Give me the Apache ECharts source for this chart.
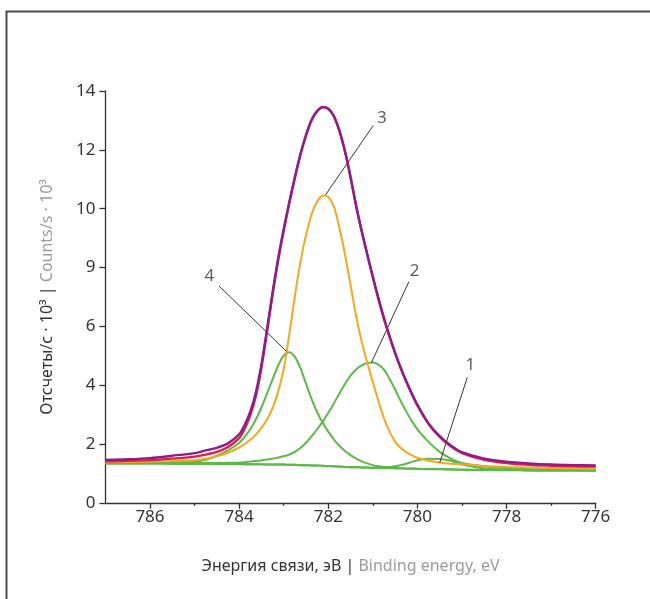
<!DOCTYPE html>
<html><head><meta charset="utf-8">
<script src="https://cdn.jsdelivr.net/npm/echarts@6/dist/echarts.min.js"></script>
<style>html,body{margin:0;padding:0;background:#fff}#c{width:650px;height:599px}</style>
</head><body><div id="c"></div>
<script>
// Binding energy grid (eV)
const energies = [787, 786.5, 786, 785.5, 785, 784.75, 784.5, 784.25, 784,
  783.875, 783.75, 783.625, 783.5, 783.375, 783.25, 783.125, 783, 782.875, 782.75, 782.625, 782.5, 782.375, 782.25, 782.125, 782,
  781.875, 781.75, 781.625, 781.5, 781.375, 781.25, 781.125, 781, 780.875, 780.75, 780.625, 780.5, 780.375, 780.25, 780.125,
  780, 779.75, 779.5, 779.25, 779, 778.5, 778, 777.5, 777, 776.5, 776];
// Counts/s · 10^3
const background = [1.34,1.34,1.34,1.33,1.33,1.33,1.32,1.32,1.32,
  1.31,1.31,1.31,1.31,1.30,1.30,1.30,1.30,1.29,1.29,1.28,1.28,1.27,1.27,1.26,1.25,
  1.24,1.23,1.22,1.21,1.21,1.20,1.20,1.19,1.19,1.18,1.18,1.17,1.17,1.16,1.16,
  1.15,1.14,1.14,1.13,1.12,1.11,1.11,1.10,1.10,1.10,1.10];
const peak1 = [1.34,1.34,1.34,1.33,1.33,1.33,1.32,1.32,1.32,
  1.31,1.31,1.31,1.31,1.30,1.30,1.30,1.30,1.29,1.29,1.28,1.28,1.27,1.27,1.26,1.25,
  1.24,1.23,1.22,1.21,1.21,1.20,1.20,1.19,1.19,1.20,1.21,1.24,1.28,1.33,1.39,
  1.45,1.50,1.49,1.43,1.30,1.17,1.13,1.11,1.10,1.10,1.10];
const peak2 = [1.36,1.36,1.35,1.35,1.35,1.35,1.35,1.36,1.37,
  1.38,1.40,1.42,1.44,1.47,1.50,1.54,1.58,1.64,1.73,1.86,2.04,2.26,2.50,2.76,3.06,
  3.38,3.72,4.04,4.32,4.53,4.67,4.75,4.77,4.70,4.53,4.22,3.85,3.46,3.10,2.78,
  2.50,2.07,1.73,1.50,1.35,1.24,1.18,1.15,1.13,1.12,1.11];
const peak3 = [1.38,1.39,1.40,1.42,1.45,1.50,1.58,1.70,1.88,
  2.00,2.14,2.32,2.55,2.83,3.22,3.78,4.55,5.72,7.02,8.18,9.10,9.80,10.24,10.45,10.40,
  10.08,9.35,8.45,7.40,6.35,5.48,4.76,4.10,3.47,2.87,2.42,2.08,1.87,1.72,1.62,
  1.53,1.43,1.37,1.33,1.31,1.25,1.22,1.20,1.18,1.17,1.16];
const peak4 = [1.36,1.37,1.37,1.38,1.40,1.46,1.60,1.78,2.03,
  2.24,2.50,2.83,3.24,3.71,4.20,4.66,5.00,5.12,4.96,4.58,4.05,3.53,3.08,2.72,2.42,
  2.16,1.94,1.76,1.62,1.50,1.41,1.34,1.28,1.24,1.22,1.21,1.19,1.18,1.17,1.17,
  1.16,1.15,1.15,1.14,1.13,1.12,1.12,1.11,1.11,1.11,1.10];
const fitSum = [1.41,1.43,1.45,1.50,1.57,1.64,1.73,1.90,2.20,
  2.52,2.97,3.62,4.58,5.80,7.07,8.24,9.25,10.18,11.04,11.83,12.48,13.00,13.31,13.45,13.39,
  13.14,12.64,11.94,11.07,10.09,9.23,8.44,7.67,6.94,6.26,5.65,5.09,4.58,4.12,3.70,
  3.31,2.68,2.24,1.92,1.69,1.46,1.35,1.29,1.26,1.24,1.23];
const measured = [1.46,1.48,1.52,1.60,1.69,1.78,1.87,2.02,2.33,
  2.65,3.10,3.75,4.70,5.90,7.15,8.30,9.30,10.22,11.07,11.85,12.50,13.02,13.32,13.46,13.40,
  13.15,12.65,11.95,11.08,10.10,9.24,8.45,7.68,6.95,6.27,5.66,5.10,4.59,4.13,3.71,
  3.33,2.70,2.27,1.95,1.72,1.50,1.40,1.34,1.30,1.28,1.27];

const xMajorTicks = [776, 778, 780, 782, 784, 786];
const xMinorTicks = [777, 779, 781, 783, 785];
const yTickLabels = ['0', '2', '4', '6', '9', '10', '12', '14'];

// Peak annotations
const labelTexts = ['1', '2', '3', '4'];
const labelPos = [[778.81, 4.69], [780.06, 7.86], [780.80, 13.08], [784.67, 7.69]];
const leaderStart = [[778.88, 4.27], [780.19, 7.52], [780.99, 12.83], [784.45, 7.37]];
const leaderEnd = [[779.50, 1.36], [781.03, 4.77], [782.06, 10.47], [782.93, 5.14]];

const FONT = 'Noto Sans';
const DARK = '#333333';
const GRAY = '#9b9b9b';
const C_PURPLE = '#8c1d8b', C_RED = '#e6194a', C_ORANGE = '#f8a61c', C_GREEN = '#5cb848';

const chart = echarts.init(document.getElementById('c'), null, {renderer: 'canvas'});
const pairs = arr => energies.map((e, i) => [e, arr[i]]);
const line = (name, arr, color, width, z) => ({
  type: 'line', name, data: pairs(arr), smooth: 0.3, symbol: 'none',
  lineStyle: {color, width}, z, silent: true, animation: false
});

const option = {
  animation: false,
  textStyle: {fontFamily: FONT},
  graphic: [{
    type: 'rect', shape: {x: 6.5, y: 11.5, width: 900, height: 900},
    style: {fill: 'none', stroke: '#4a4a4a', lineWidth: 2}, z: -10
  }],
  grid: {left: 105.4, right: 54.3, top: 91, bottom: 96.2, containLabel: false, outerBoundsMode: 'none'},
  xAxis: [{
    type: 'value', min: 776, max: 787, inverse: true, position: 'bottom',
    axisLine: {onZero: false, lineStyle: {color: DARK, width: 1.3}},
    axisTick: {customValues: xMajorTicks, length: 6, lineStyle: {color: DARK, width: 1.3}},
    axisLabel: {customValues: xMajorTicks, margin: 6, fontSize: 17, color: DARK, fontFamily: FONT},
    splitLine: {show: false},
    name: '{d|Энергия связи, эВ |} {g|Binding energy, eV}',
    nameLocation: 'middle', nameGap: 56,
    nameTextStyle: {fontFamily: FONT, fontSize: 16, rich: {
      d: {color: DARK, fontSize: 16, fontFamily: FONT},
      g: {color: GRAY, fontSize: 16, fontFamily: FONT}
    }}
  }, {
    type: 'value', min: 776, max: 787, inverse: true, position: 'bottom',
    axisLine: {show: false, onZero: false},
    axisTick: {customValues: xMinorTicks, length: 3, lineStyle: {color: DARK, width: 1.3}},
    axisLabel: {show: false}, splitLine: {show: false}
  }],
  yAxis: {
    type: 'value', min: 0, max: 14, interval: 2,
    axisLine: {show: true, lineStyle: {color: DARK, width: 1.3}},
    axisTick: {show: true, length: 6, lineStyle: {color: DARK, width: 1.3}},
    axisLabel: {margin: 10, fontSize: 17, color: DARK, fontFamily: FONT,
      formatter: v => yTickLabels[Math.round(v / 2)]},
    splitLine: {show: false},
    name: '{d|Отсчеты/с · 10³ |} {g|Counts/s · 10³}',
    nameLocation: 'middle', nameGap: 50,
    nameTextStyle: {fontFamily: FONT, fontSize: 16, rich: {
      d: {color: DARK, fontSize: 16, fontFamily: FONT},
      g: {color: GRAY, fontSize: 16, fontFamily: FONT}
    }}
  },
  series: [
    line('background', background, C_GREEN, 2, 2),
    line('peak1', peak1, C_GREEN, 2, 3),
    line('peak2', peak2, C_GREEN, 2, 3),
    line('peak4', peak4, C_GREEN, 2, 3),
    line('peak3', peak3, C_ORANGE, 2, 4),
    line('fit', fitSum, C_RED, 2.4, 5),
    line('measured', measured, C_PURPLE, 2.4, 6),
    {
      type: 'scatter', name: 'labels', z: 10, silent: true, animation: false,
      symbolSize: 1, itemStyle: {color: 'rgba(0,0,0,0)'},
      data: labelTexts.map((t, i) => ({name: t, value: labelPos[i]})),
      label: {show: true, formatter: '{b}', position: 'inside', fontSize: 17, color: DARK, fontFamily: FONT},
      markLine: {
        silent: true, animation: false, symbol: ['none', 'none'],
        label: {show: false},
        lineStyle: {color: DARK, width: 1, type: 'solid'},
        emphasis: {disabled: true},
        data: leaderStart.map((s, i) => [{coord: s}, {coord: leaderEnd[i]}])
      }
    }
  ]
};
chart.setOption(option);
</script></body></html>
